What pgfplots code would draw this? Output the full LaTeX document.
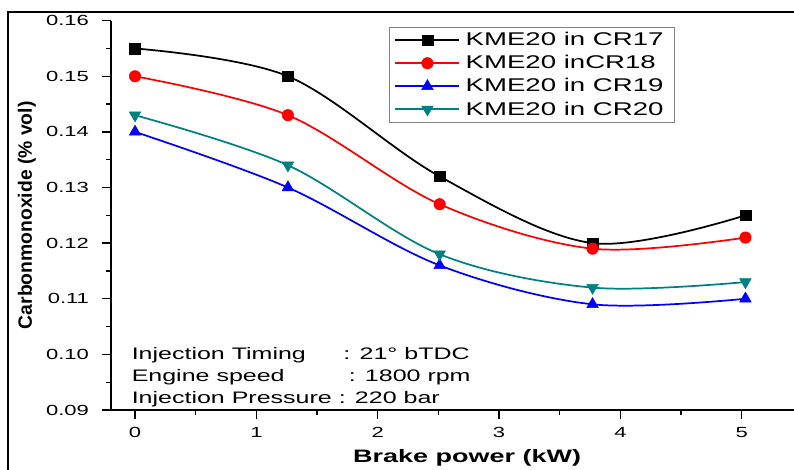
\documentclass[border=0pt]{standalone}
\usepackage{pgfplots}
\pgfplotsset{compat=1.18}
\usepackage{fontspec}
\setmainfont{Liberation Sans}[FakeStretch=1.5]
\newfontfamily\ylabfont{Liberation Sans}
\definecolor{cteal}{RGB}{0,128,128}
\begin{document}
\begin{tikzpicture}
\begin{axis}[
  scale only axis,
  width=512.25pt, height=292pt,
  xmin=-0.198, xmax=5.43,
  ymin=0.09, ymax=0.16,
  axis x line*=bottom, axis y line*=left,
  axis line style={line width=1.2pt},
  xtick={0,1,2,3,4,5},
  ytick={0.09,0.10,0.11,0.12,0.13,0.14,0.15,0.16},
  minor x tick num=1, minor y tick num=1,
  tick align=outside,
  major tick length=6.5pt, minor tick length=3.5pt,
  tick style={line width=1pt, black},
  /pgf/number format/assume math mode=true,
  yticklabel style={/pgf/number format/fixed, /pgf/number format/fixed zerofill, /pgf/number format/precision=2, xshift=-6.5pt},
  xticklabel style={yshift=-3pt},
  scaled y ticks=false,
  tick label style={font=\fontsize{11}{13}\selectfont},
  xlabel={\bfseries Brake power (kW)},
  ylabel={\ylabfont\bfseries Carbonmonoxide (\% vol)},
  xlabel style={font=\fontsize{13.5}{16}\selectfont, at={(rel axis cs:0.5,0)}, anchor=center, yshift=-36pt, xshift=11pt},
  ylabel style={font=\fontsize{14.5}{17}\selectfont, at={(rel axis cs:0,0.5)}, anchor=center, yshift=63pt},
  legend style={at={(rel axis cs:0.407,0.984)}, anchor=north west, draw=gray,
    font=\fontsize{13.8}{16}\selectfont, row sep=1.8pt, inner xsep=4pt, inner ysep=2pt,
    nodes={inner xsep=4pt}},
  legend cell align=left,
  legend image code/.code={\draw[line width=1.3pt, mark repeat=2,mark phase=2] plot coordinates {(0pt,0pt) (24pt,0pt) (48pt,0pt)};},
  every axis plot/.append style={line width=1.3pt, smooth, tension=0.55},
]
\addplot[black, mark=square*, mark size=4pt, mark options={solid, fill=black, line width=0.4pt}]
  coordinates {(0,0.155) (1.26,0.150) (2.51,0.132) (3.77,0.120) (5.03,0.125)};
\addlegendentry{KME20 in CR17}
\addplot[red, mark=*, mark size=4.3pt, mark options={solid, fill=red, line width=0.4pt}]
  coordinates {(0,0.150) (1.26,0.143) (2.51,0.127) (3.77,0.119) (5.03,0.121)};
\addlegendentry{KME20 inCR18}
\addplot[blue, mark=triangle*, mark size=5pt, mark options={solid, fill=blue, line width=0.4pt}]
  coordinates {(0,0.140) (1.26,0.130) (2.51,0.116) (3.77,0.109) (5.03,0.110)};
\addlegendentry{KME20 in CR19}
\addplot[cteal, mark=triangle*, mark size=5pt, mark options={solid, fill=cteal, rotate=180, line width=0.4pt}]
  coordinates {(0,0.143) (1.26,0.134) (2.51,0.118) (3.77,0.112) (5.03,0.113)};
\addlegendentry{KME20 in CR20}
\node[anchor=south west, inner sep=0pt, font=\fontsize{12.5}{16.5}\selectfont] at (rel axis cs:0.03,0.0)
  {\begin{tabular}{@{}l@{ }l@{}}
   Injection Timing & \hspace{3.5pt}: 21° bTDC\\
   Engine speed & \hspace{7.5pt}: 1800 rpm\\
   Injection Pressure & : 220 bar
   \end{tabular}};
\coordinate (o) at (rel axis cs:0,0);
\coordinate (tr) at (rel axis cs:1,1);
\end{axis}
\pgfresetboundingbox
\path[use as bounding box] ([xshift=-83.25pt,yshift=-45pt]o) rectangle ([yshift=15.5pt]tr);
\draw[line width=1.3pt] ([xshift=-77.25pt,yshift=-50pt]o) |- ([xshift=5pt,yshift=6.5pt]tr);
\end{tikzpicture}
\end{document}
